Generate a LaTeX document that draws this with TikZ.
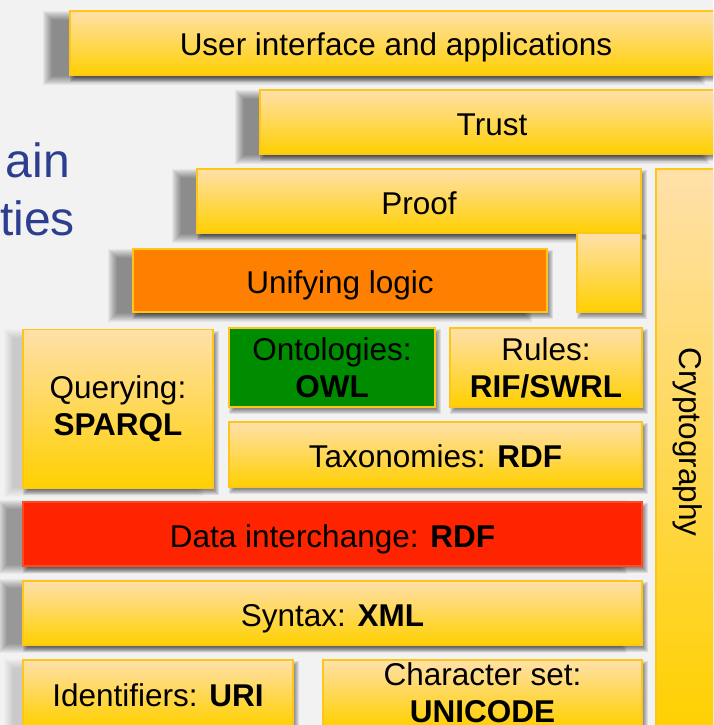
\documentclass[tikz,border=0pt]{standalone}
\usepackage{fontspec}
\setmainfont{Liberation Sans}
\usepackage{xcolor}
\usetikzlibrary{backgrounds}
\definecolor{bgpage}{HTML}{F2F2F2}
\definecolor{fgblue}{HTML}{2C3E8F}
\definecolor{goldtop}{HTML}{FFE0AA}
\definecolor{goldbot}{HTML}{FFD000}
\definecolor{goldline}{HTML}{FFC61A}
\definecolor{logicfill}{HTML}{FF7F00}
\definecolor{ontofill}{HTML}{008C00}
\definecolor{datafill}{HTML}{FF2400}
\definecolor{dataline}{HTML}{FF4A22}
\tikzset{
  layer/.style={
    draw=goldline, line width=1.6pt, inner sep=0pt, align=center,
    text=black, font=\fontsize{31.5}{37}\selectfont,
  },
  yellowbox/.style={layer, top color=goldtop, bottom color=goldbot},
  logicbox/.style={layer, top color=logicfill, bottom color=logicfill},
  ontobox/.style={layer, top color=ontofill, bottom color=ontofill},
  databox/.style={layer, draw=dataline, top color=datafill, bottom color=datafill},
  oneline/.style={text height=26pt, text depth=0pt},
  lbl/.style={inner sep=0pt, font=\fontsize{31.5}{37}\selectfont},
  sidetxt/.style={inner sep=0pt, anchor=base east, text=fgblue,
                  font=\fontsize{48}{58}\selectfont},
  shade/.style={black, fill opacity=#1},
}

\begin{document}
\begin{tikzpicture}[x=1pt, y=1pt]

\useasboundingbox (0,0) rectangle (713,-725);
\clip (0,0) rectangle (713,-725);
\begin{scope}[on background layer]
  \fill[bgpage] (0,0) rectangle (713,-725);
\end{scope}

% ── slide title, cut off at the left edge ───────────────────────
\node[sidetxt] (titleA) at (70,-177) {ain};
\node[sidetxt] (titleB) at (75,-235) {ties};

% ── upper layers (stepped) ──────────────────────────────────────
\node[yellowbox, oneline, minimum width=652pt, minimum height=64pt]
  (ui) at (396,-43) {User interface and applications};
\node[yellowbox, oneline, minimum width=464pt, minimum height=64pt]
  (trust) at (492,-122) {Trust};
\node[yellowbox, oneline, minimum width=444pt, minimum height=64pt]
  (proof) at (419,-201) {Proof};
\node[yellowbox, minimum width=64pt, minimum height=79pt]
  (prooftab) at (609,-272.5) {};

% ── side column ─────────────────────────────────────────────────
\node[yellowbox, minimum width=64pt, minimum height=561pt]
  (crypto) at (688,-449.5) {};
\node[lbl, rotate=-90] (cryptolbl) at (688,-442) {Cryptography};

% ── logic and vocabularies ──────────────────────────────────────
\node[logicbox, oneline, minimum width=414pt, minimum height=63pt]
  (unify) at (340,-280.5) {Unifying logic};
\node[yellowbox, minimum width=190pt, minimum height=159pt]
  (query) at (118,-409) {Querying:\\\textbf{SPARQL}};
\node[ontobox, minimum width=206pt, minimum height=79pt]
  (onto) at (332,-367.5) {Ontologies:\\\textbf{OWL}};
\node[yellowbox, minimum width=192pt, minimum height=79pt]
  (rules) at (546,-367.5) {Rules:\\\textbf{RIF/SWRL}};
\node[yellowbox, oneline, minimum width=413pt, minimum height=65pt]
  (taxo) at (435.5,-454.5) {Taxonomies: \textbf{RDF}};

% ── foundations ─────────────────────────────────────────────────
\node[databox, oneline, minimum width=619pt, minimum height=64pt]
  (data) at (332.5,-534) {Data interchange: \textbf{RDF}};
\node[yellowbox, oneline, minimum width=619pt, minimum height=64pt]
  (syntax) at (332.5,-613) {Syntax: \textbf{XML}};
\node[yellowbox, oneline, minimum width=270pt, minimum height=66pt]
  (ident) at (158,-693) {Identifiers: \textbf{URI}};
\node[yellowbox, minimum width=319pt, minimum height=66pt]
  (charset) at (482.5,-693) {Character set:\\\textbf{UNICODE}};

% ── soft shadows (left smear + drop shadow) ─────────────────────
\begin{scope}[on background layer]
  \clip (0,0) rectangle (713,-725);
  \foreach \n/\dx/\dy/\op in {ui/-22/-5/0.05, trust/-20/-5/0.05, proof/-20/-5/0.05,
      unify/-20/-5/0.05, data/-20/-3/0.045, syntax/-20/-3/0.045,
      query/-14/-4/0.015, ident/-14/-4/0.015}
    \foreach \k in {-5,...,4}
      \fill[shade=\op] ([shift={({\dx-(\k)},{\dy+(\k)})}]\n.north west)
        rectangle ([shift={({\dx+(\k)},{\dy-(\k)})}]\n.south east);
  \foreach \n in {ui,trust,proof,prooftab,crypto,unify,query,onto,rules,taxo,
      data,syntax,ident,charset}
    \foreach \k in {-3,...,2}
      \fill[shade=0.09] ([shift={({3-(\k)},{-4+(\k)})}]\n.north west)
        rectangle ([shift={({3+(\k)},{-4-(\k)})}]\n.south east);
\end{scope}

\end{tikzpicture}
\end{document}
